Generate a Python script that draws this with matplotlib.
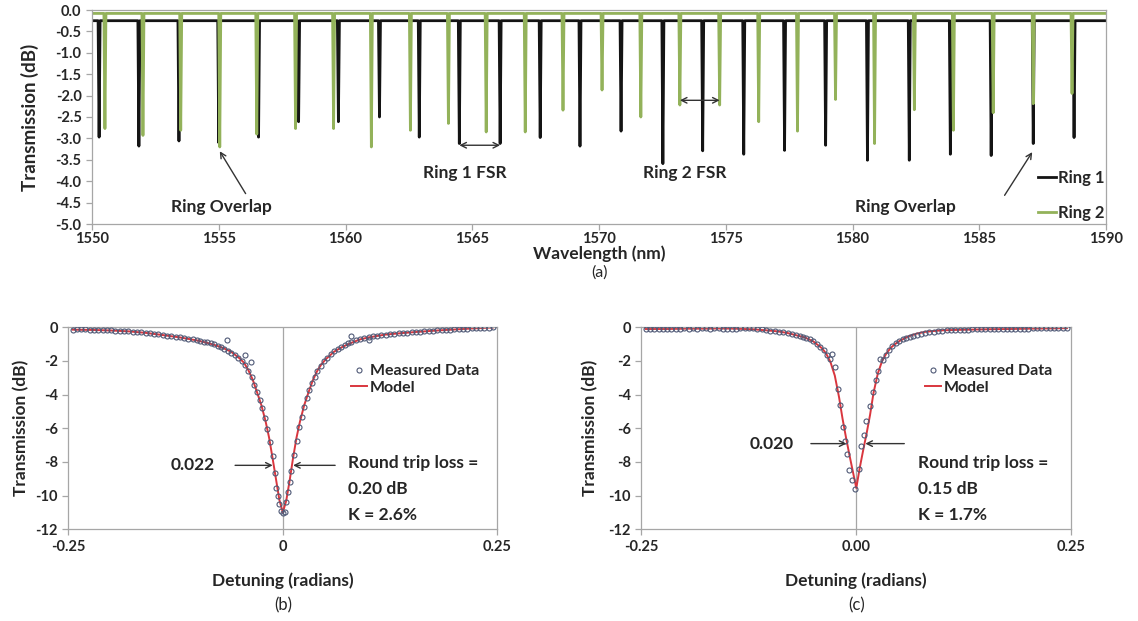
import matplotlib
matplotlib.use("Agg")
import matplotlib.pyplot as plt
from matplotlib import font_manager

names = {f.name for f in font_manager.fontManager.ttflist if f.weight in (600, 700, 'bold')}
FAM = 'Lato' if 'Lato' in names else 'Open Sans'
plt.rcParams['font.family'] = [FAM, 'DejaVu Sans']
plt.rcParams['font.weight'] = 'bold'
plt.rcParams['axes.labelweight'] = 'bold'
TXT = '#262626'
GRID = '#a6a6a6'

# (a) resonance positions (nm) and depths (dB)
RING1_WL = [1550.28, 1551.85, 1553.43, 1555.00, 1556.57, 1558.15, 1559.72, 1561.34, 1562.91,
            1564.49, 1566.10, 1567.68, 1569.25, 1570.87, 1572.52, 1574.09, 1575.71, 1577.32,
            1578.94, 1580.59, 1582.24, 1583.86, 1585.47, 1587.13, 1588.74]
RING1_DEPTH = [-2.97, -3.18, -3.06, -3.10, -2.97, -2.61, -2.61, -2.50, -2.97,
               -3.12, -3.12, -2.98, -3.18, -2.83, -3.59, -3.29, -3.37, -3.28,
               -3.16, -3.51, -3.51, -3.37, -3.40, -3.12, -2.98]
RING2_WL = [1550.51, 1552.01, 1553.50, 1555.04, 1556.50, 1558.03, 1559.53, 1561.02, 1562.56,
            1564.06, 1565.55, 1567.09, 1568.58, 1570.12, 1571.65, 1573.19, 1574.76, 1576.30,
            1577.83, 1579.33, 1580.87, 1582.44, 1583.98, 1585.55, 1587.13, 1588.66]
RING2_DEPTH = [-2.77, -2.93, -2.81, -3.20, -2.90, -2.77, -2.77, -3.20, -2.81,
               -2.65, -2.85, -2.85, -2.34, -1.87, -2.50, -2.22, -2.22, -2.61,
               -2.83, -2.09, -3.12, -2.33, -2.81, -2.40, -2.19, -1.95]
RING1_BASE = -0.25
RING2_BASE = -0.08

# (b) ring 1 detuning fit
MODEL_B_X = [-0.245, -0.22, -0.20, -0.18, -0.16, -0.14, -0.12, -0.10, -0.09, -0.08, -0.07, -0.06,
             -0.05, -0.045, -0.04, -0.035, -0.03, -0.025, -0.02, -0.016, -0.012, -0.008, -0.004,
             0.0, 0.004, 0.008, 0.012, 0.016, 0.02, 0.025, 0.03, 0.035, 0.04, 0.045, 0.05, 0.06,
             0.07, 0.08, 0.09, 0.10, 0.12, 0.14, 0.16, 0.18, 0.20, 0.22, 0.245]
MODEL_B_Y = [-0.14, -0.16, -0.19, -0.24, -0.33, -0.46, -0.60, -0.78, -0.90, -1.04, -1.22, -1.46,
             -1.86, -2.12, -2.56, -3.12, -3.86, -4.62, -5.60, -6.55, -7.75, -9.00, -10.25,
             -11.00, -10.30, -9.10, -7.75, -6.55, -5.60, -4.62, -3.86, -3.15, -2.60, -2.20, -1.90,
             -1.44, -1.15, -0.92, -0.72, -0.60, -0.43, -0.34, -0.26, -0.19, -0.13, -0.07, -0.01]
MEAS_B_X = [-0.245, -0.240, -0.235, -0.230, -0.225, -0.220, -0.215, -0.210, -0.205, -0.200,
            -0.195, -0.190, -0.185, -0.180, -0.175, -0.170, -0.165, -0.160, -0.155, -0.150,
            -0.145, -0.140, -0.135, -0.130, -0.125, -0.120, -0.115, -0.110, -0.105, -0.100,
            -0.096, -0.092, -0.088, -0.084, -0.080, -0.076, -0.072, -0.068, -0.065, -0.064,
            -0.060, -0.056, -0.052, -0.048, -0.044, -0.044, -0.040, -0.037, -0.036, -0.033,
            -0.030, -0.027, -0.024, -0.021, -0.018, -0.015, -0.012, -0.009, -0.008, -0.006,
            -0.004, -0.002, 0.000, 0.002, 0.004, 0.006, 0.008, 0.010, 0.013, 0.016, 0.019,
            0.022, 0.025, 0.028, 0.031, 0.034, 0.037, 0.040, 0.044, 0.048, 0.052, 0.056, 0.060,
            0.064, 0.068, 0.072, 0.076, 0.079, 0.080, 0.085, 0.090, 0.095, 0.101, 0.100, 0.105,
            0.110, 0.115, 0.120, 0.125, 0.130, 0.135, 0.140, 0.145, 0.150, 0.155, 0.160, 0.165,
            0.170, 0.175, 0.180, 0.185, 0.190, 0.195, 0.200, 0.205, 0.210, 0.215, 0.220, 0.225,
            0.230, 0.235, 0.240, 0.245]
MEAS_B_Y = [-0.15, -0.10, -0.08, -0.13, -0.15, -0.14, -0.16, -0.17, -0.18, -0.19,
            -0.20, -0.22, -0.22, -0.24, -0.26, -0.29, -0.30, -0.33, -0.36, -0.38,
            -0.42, -0.46, -0.50, -0.53, -0.55, -0.60, -0.64, -0.68, -0.72, -0.76,
            -0.80, -0.85, -0.90, -0.96, -1.02, -1.10, -1.18, -1.28, -0.75, -1.38,
            -1.50, -1.64, -1.82, -2.02, -1.62, -2.26, -2.60, -2.07, -2.98, -3.40,
            -3.82, -4.30, -4.82, -5.40, -6.05, -6.80, -7.65, -8.65, -9.55, -10.00,
            -10.50, -10.90, -11.05, -10.95, -10.40, -9.80, -9.20, -8.55, -7.60, -6.75, -5.95,
            -5.30, -4.72, -4.20, -3.72, -3.30, -2.95, -2.62, -2.28, -2.02, -1.80, -1.60, -1.42,
            -1.28, -1.16, -1.04, -0.94, -0.49, -0.86, -0.78, -0.70, -0.64, -0.75, -0.58, -0.53,
            -0.49, -0.46, -0.43, -0.40, -0.38, -0.36, -0.34, -0.31, -0.29, -0.27, -0.25, -0.24,
            -0.22, -0.20, -0.18, -0.17, -0.15, -0.14, -0.13, -0.12, -0.10, -0.09, -0.07, -0.06,
            -0.05, -0.04, -0.02, -0.01]

# (c) ring 2 detuning fit
MODEL_C_X = [-0.245, -0.22, -0.20, -0.18, -0.16, -0.14, -0.12, -0.10, -0.09, -0.08, -0.07, -0.06,
             -0.05, -0.045, -0.04, -0.035, -0.03, -0.025, -0.02, -0.016, -0.012, -0.008, -0.004,
             0.0, 0.004, 0.008, 0.012, 0.016, 0.02, 0.025, 0.03, 0.035, 0.04, 0.045, 0.05, 0.06,
             0.07, 0.08, 0.09, 0.10, 0.12, 0.14, 0.16, 0.18, 0.20, 0.22, 0.245]
MODEL_C_Y = [-0.10, -0.10, -0.08, -0.08, -0.07, -0.08, -0.12, -0.20, -0.25, -0.34, -0.47, -0.60,
             -0.84, -1.04, -1.24, -1.56, -2.07, -2.87, -4.17, -5.43, -6.54, -7.58, -8.57,
             -9.55, -8.35, -7.30, -6.30, -5.20, -3.90, -2.75, -2.00, -1.55, -1.22, -1.00, -0.82,
             -0.55, -0.38, -0.27, -0.22, -0.18, -0.15, -0.13, -0.11, -0.10, -0.08, -0.07, -0.05]
MEAS_C_X = [-0.245, -0.240, -0.235, -0.230, -0.225, -0.220, -0.215, -0.210, -0.205, -0.200,
            -0.195, -0.190, -0.185, -0.180, -0.175, -0.170, -0.165, -0.160, -0.155, -0.150,
            -0.145, -0.140, -0.135, -0.130, -0.125, -0.120, -0.115, -0.110, -0.105, -0.100,
            -0.095, -0.090, -0.085, -0.080, -0.075, -0.070, -0.066, -0.062, -0.058, -0.054,
            -0.050, -0.046, -0.042, -0.038, -0.034, -0.031, -0.028, -0.025, -0.021, -0.019,
            -0.0155, -0.0136, -0.011, -0.0085, -0.0045, -0.001, 0.003, 0.006, 0.009, 0.0116,
            0.0155, 0.019, 0.0225, 0.025, 0.028, 0.031, 0.034, 0.038, 0.042, 0.046, 0.050,
            0.054, 0.058, 0.062, 0.066, 0.070, 0.075, 0.080, 0.085, 0.090, 0.095, 0.100, 0.105,
            0.110, 0.115, 0.120, 0.125, 0.130, 0.135, 0.140, 0.145, 0.150, 0.155, 0.160, 0.165,
            0.170, 0.175, 0.180, 0.185, 0.190, 0.195, 0.200, 0.205, 0.210, 0.215, 0.220, 0.225,
            0.230, 0.235, 0.240, 0.245]
MEAS_C_Y = [-0.12, -0.10, -0.11, -0.10, -0.09, -0.10, -0.08, -0.09, -0.08, -0.07,
            -0.08, -0.07, -0.08, -0.06, -0.07, -0.08, -0.06, -0.07, -0.09, -0.10,
            -0.08, -0.09, -0.07, -0.06, -0.05, -0.02, -0.10, -0.13, -0.16, -0.20,
            -0.22, -0.25, -0.29, -0.34, -0.40, -0.46, -0.52, -0.57, -0.63, -0.70,
            -0.82, -0.98, -1.15, -1.33, -1.62, -1.90, -1.58, -2.33, -3.66, -4.60,
            -5.95, -6.75, -7.54, -8.50, -9.10, -9.63, -8.44, -7.05, -6.40, -5.56,
            -4.66, -3.86, -3.16, -2.57, -1.87, -1.95, -1.62, -1.35, -1.12, -0.95, -0.82,
            -0.70, -0.62, -0.55, -0.49, -0.44, -0.37, -0.32, -0.28, -0.25, -0.22, -0.20, -0.18,
            -0.17, -0.16, -0.15, -0.14, -0.14, -0.13, -0.13, -0.12, -0.12, -0.11, -0.11, -0.10,
            -0.10, -0.10, -0.09, -0.09, -0.08, -0.08, -0.08, -0.07, -0.07, -0.07, -0.06, -0.06,
            -0.05, -0.05, -0.04, -0.03]


def trace(wl, depth, base, hw=0.04):
    xs, ys = [1550.0], [base]
    for w, d in zip(wl, depth):
        xs += [w - hw, w, w + hw]
        ys += [base, d, base]
    xs.append(1590.0)
    ys.append(base)
    return xs, ys


def style(ax):
    for s in ax.spines.values():
        s.set_color(GRID)
        s.set_linewidth(0.9)
    ax.tick_params(colors=GRID, labelcolor=TXT, length=4, width=0.9, labelsize=10.5)
    for t in ax.get_xticklabels() + ax.get_yticklabels():
        t.set_fontweight('bold')


fig = plt.figure(figsize=(11.38, 6.21), dpi=100)
arr = dict(arrowstyle='->', color='#333333', lw=1.0, shrinkA=0, shrinkB=0)

# ---- (a) spectrum
ax = fig.add_axes([92 / 1138, 1 - 224 / 621, 1014 / 1138, 214 / 621])
x1, y1 = trace(RING1_WL, RING1_DEPTH, RING1_BASE)
x2, y2 = trace(RING2_WL, RING2_DEPTH, RING2_BASE)
ax.plot(x1, y1, color='#141414', lw=2.0, label='Ring 1')
ax.plot(x2, y2, color='#93b25a', lw=2.0, label='Ring 2')
ax.set_xlim(1550, 1590)
ax.set_ylim(-5.0, 0.0)
ax.set_xticks(range(1550, 1591, 5))
ax.set_yticks([-5 + 0.5 * i for i in range(11)])
ax.set_yticklabels(['%.1f' % (-5 + 0.5 * i) for i in range(11)])
style(ax)
ax.tick_params(axis='x', pad=2)
ax.set_ylabel('Transmission (dB)', fontsize=13.5, color=TXT)
ax.yaxis.set_label_coords(-0.052, 0.5)
ax.set_xlabel('Wavelength (nm)', fontsize=12.5, color=TXT)
ax.xaxis.set_label_coords(0.5, -0.1)
ax.text(0.5, -0.225, '(a)', transform=ax.transAxes, ha='center', va='center',
        fontsize=11.5, fontweight='normal', color=TXT)

ax.text(1555.1, -4.6, 'Ring Overlap', ha='center', va='center', fontsize=12.5, color=TXT)
ax.annotate('', xy=(1555.04, -3.30), xytext=(1556.06, -4.29), arrowprops=arr)
ax.text(1582.1, -4.6, 'Ring Overlap', ha='center', va='center', fontsize=12.5, color=TXT)
ax.annotate('', xy=(1587.09, -3.32), xytext=(1586.0, -4.33), arrowprops=arr)
ax.text(1564.7, -3.82, 'Ring 1 FSR', ha='center', va='center', fontsize=12.5, color=TXT)
ax.annotate('', xy=(1564.49, -3.16), xytext=(1566.10, -3.16),
            arrowprops=dict(arr, arrowstyle='<->'))
ax.text(1573.4, -3.82, 'Ring 2 FSR', ha='center', va='center', fontsize=12.5, color=TXT)
ax.annotate('', xy=(1573.19, -2.11), xytext=(1574.76, -2.11),
            arrowprops=dict(arr, arrowstyle='<->'))
ax.legend(loc='lower left', bbox_to_anchor=(0.918, -0.055), frameon=False, fontsize=12,
          handlelength=1.1, handletextpad=0.1, labelspacing=1.15, labelcolor=TXT)

# ---- (b) and (c) resonance fits
panels = [
    ([68.3, 429], MEAS_B_X, MEAS_B_Y, MODEL_B_X, MODEL_B_Y, ['-0.25', '0', '0.25'], '(b)',
     '0.022', (-0.105, -8.2), (-0.0556, -0.0118, 0.061, 0.0120, -8.2),
     ['Round trip loss =', '0.20 dB', 'K = 2.6%'], 0.0765, -0.09),
    ([641.3, 430], MEAS_C_X, MEAS_C_Y, MODEL_C_X, MODEL_C_Y, ['-0.25', '0.00', '0.25'], '(c)',
     '0.020', (-0.0985, -6.95), (-0.0528, -0.0115, 0.0558, 0.0105, -6.91),
     ['Round trip loss =', '0.15 dB', 'K = 1.7%'], 0.0713, -0.10),
]
for (l, w), mx, my, fx, fy, xtl, tag, fwhm, fpos, arrs, notes, nx, ylx in panels:
    bx = fig.add_axes([l / 1138, 1 - 529.3 / 621, w / 1138, 202 / 621])
    bx.axvline(0, color=GRID, lw=0.9, zorder=0)
    bx.plot(fx, fy, color='#d9363e', lw=1.4, label='Model', zorder=2)
    bx.plot(mx, my, ls='none', marker='o', ms=3.6, mfc='none', mec='#4f5976', mew=0.8,
            label='Measured Data', zorder=3)
    bx.set_xlim(-0.25, 0.25)
    bx.set_ylim(-12, 0)
    bx.set_xticks([-0.25, 0, 0.25])
    bx.set_xticklabels(xtl)
    bx.set_yticks(range(-12, 1, 2))
    bx.set_yticklabels([str(v) for v in range(-12, 1, 2)])
    style(bx)
    bx.set_ylabel('Transmission (dB)', fontsize=12.5, color=TXT)
    bx.yaxis.set_label_coords(ylx, 0.5)
    bx.set_xlabel('Detuning (radians)', fontsize=12.5, color=TXT)
    bx.xaxis.set_label_coords(0.5, -0.215)
    bx.text(0.5, -0.375, tag, transform=bx.transAxes, ha='center', va='center',
            fontsize=12, fontweight='normal', color=TXT)
    h, lb = bx.get_legend_handles_labels()
    bx.legend(h[::-1], lb[::-1], loc='upper left', bbox_to_anchor=(0.645, 0.85), frameon=False,
              fontsize=11.5, handlelength=1.0, handletextpad=0.15, labelspacing=0.15,
              borderaxespad=0, labelcolor=TXT)
    bx.text(fpos[0], fpos[1], fwhm, ha='center', va='center', fontsize=12.5, color=TXT)
    bx.annotate('', xy=(arrs[1], arrs[4]), xytext=(arrs[0], arrs[4]), arrowprops=arr)
    bx.annotate('', xy=(arrs[3], arrs[4]), xytext=(arrs[2], arrs[4]), arrowprops=arr)
    for k, s in enumerate(notes):
        bx.text(nx, -8.05 - 1.55 * k, s, ha='left', va='center', fontsize=12.5, color=TXT)

fig.savefig('out.png', dpi=100)
